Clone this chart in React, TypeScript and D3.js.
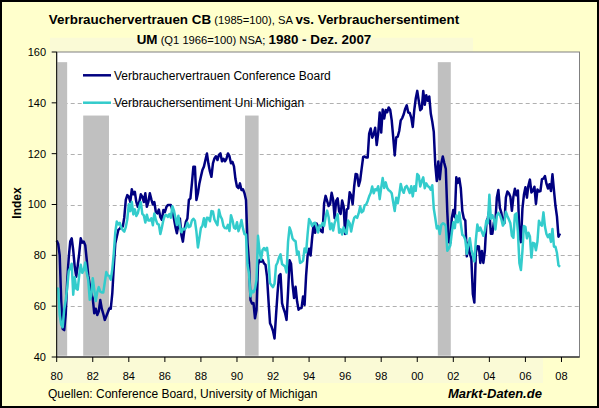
import React from 'react';
import * as d3 from 'd3';

// Monthly data, January 1980 – December 2007
const startYear = 1980;

const cbValues = [
  85.8, 84.5, 80, 62, 51, 50.6, 57, 70, 79, 85.4, 86.7, 82,
  75.5, 71.6, 76, 80.8, 86.7, 85, 85.4, 84, 78.2, 72, 68.3, 65,
  63.1, 57.2, 59, 56.5, 58, 62.4, 59, 57, 54.6, 56, 57.5, 59.1,
  59, 65, 75.5, 84.7, 87.3, 90, 90.5, 91.3, 91.3, 95, 101.8, 103.7,
  103.1, 101, 106, 104, 105, 101, 99.1, 101, 104, 103.1, 101, 104.4,
  99.1, 101, 104.4, 102, 100, 101, 97, 96.5, 98, 95, 94, 97.8,
  97, 99, 99.8, 99.8, 99.8, 97.8, 94.6, 91.3, 88.7, 92, 94.5, 88,
  85.4, 90, 93.2, 94.5, 101.8, 102.4, 108.3, 114.9, 114.9, 101.8, 104.4, 108.3,
  111, 113.6, 114.9, 117.5, 120.1, 116, 113, 110.9, 116.2, 118.1, 119, 117.5,
  119.5, 120.1, 117, 118, 117, 118, 120.1, 119, 116.2, 116.8, 115, 110,
  107, 106.4, 108.3, 105.7, 106, 104.4, 101.8, 85, 77, 62.4, 61, 61.2,
  55.2, 58.5, 76.2, 78.2, 77.5, 78.2, 76.8, 76.2, 71.6, 62, 53.3, 52,
  50.2, 47.3, 56.5, 65.1, 71.9, 72.6, 61.2, 59.0, 57.3, 54.6, 65.6, 78.1,
  76.7, 68.5, 63.2, 67.6, 61.9, 58.6, 59.2, 59.3, 63.8, 60.5, 71.9, 79.8,
  82.6, 79.9, 86.7, 92.1, 88.9, 92.5, 91.3, 90.4, 89.5, 89.1, 100.4, 103.4,
  101.4, 99.4, 100.2, 104.6, 102.0, 94.6, 101.4, 102.4, 97.3, 96.3, 101.6, 99.2,
  88.4, 98.0, 98.4, 104.8, 103.5, 100.1, 107.0, 112.0, 111.8, 107.3, 109.5, 114.2,
  118.7, 118.9, 118.5, 118.5, 127.9, 129.9, 126.3, 127.6, 130.2, 123.4, 128.1, 136.2,
  128.3, 137.4, 133.8, 137.2, 136.3, 138.2, 137.2, 133.1, 126.4, 119.3, 126.4, 126.7,
  128.9, 133.1, 134.0, 135.5, 137.7, 139.0, 136.2, 136.0, 134.2, 130.5, 137.0, 141.7,
  144.7, 140.8, 137.1, 137.7, 144.7, 139.2, 143.0, 140.8, 142.5, 135.8, 132.6, 128.6,
  115.7, 109.2, 116.9, 109.9, 116.1, 118.9, 116.3, 114.0, 97.0, 85.3, 84.9, 94.6,
  97.8, 95.0, 110.7, 108.5, 110.3, 106.3, 97.4, 94.5, 93.7, 79.6, 84.9, 80.7,
  78.8, 64.8, 61.4, 81.0, 83.6, 83.5, 77.0, 81.7, 77.0, 81.7, 92.5, 94.8,
  97.7, 88.5, 88.5, 93.0, 93.1, 102.8, 105.7, 98.7, 96.7, 92.9, 92.6, 102.7,
  105.1, 104.4, 103.0, 97.5, 103.1, 106.2, 103.6, 105.5, 87.5, 85.2, 98.3, 103.8,
  106.8, 102.7, 107.5, 109.8, 104.7, 105.4, 107.0, 100.2, 105.9, 105.1, 105.3, 110.0,
  110.2, 111.2, 108.2, 106.3, 108.0, 105.3, 111.9, 105.6, 99.5, 95.2, 87.3, 88.6,
];

const umValues = [
  67.0, 66.9, 56.5, 52.7, 51.7, 58.7, 62.3, 67.3, 73.7, 75.0, 76.7, 64.5,
  71.4, 66.9, 66.5, 72.4, 76.3, 73.1, 74.1, 77.2, 73.1, 70.3, 62.5, 64.3,
  71.0, 66.5, 62.0, 65.5, 67.5, 65.7, 65.4, 65.4, 69.3, 73.4, 72.1, 71.9,
  70.4, 74.6, 80.8, 89.1, 93.3, 92.2, 92.8, 90.9, 89.9, 89.3, 91.1, 94.2,
  100.1, 97.4, 101.0, 96.1, 98.1, 95.5, 96.6, 99.1, 100.9, 96.3, 95.7, 92.9,
  96.0, 93.7, 93.7, 94.6, 91.8, 96.5, 94.0, 92.4, 92.1, 88.4, 90.9, 93.9,
  95.6, 95.9, 95.1, 96.2, 94.8, 99.3, 97.7, 94.9, 91.9, 95.6, 91.4, 89.1,
  90.4, 90.2, 90.8, 92.8, 91.1, 91.5, 93.7, 94.4, 93.6, 89.3, 83.1, 86.8,
  90.8, 91.6, 94.6, 91.2, 94.8, 94.7, 93.4, 97.4, 97.3, 94.1, 93.0, 91.9,
  97.9, 95.4, 94.3, 91.5, 90.7, 90.6, 92.0, 89.6, 95.8, 93.9, 90.9, 90.5,
  93.0, 89.5, 91.3, 93.9, 90.6, 88.3, 88.2, 76.4, 72.8, 63.9, 66.0, 65.5,
  66.8, 70.4, 87.7, 81.8, 78.3, 82.1, 82.9, 82.0, 83.0, 78.3, 69.1, 68.2,
  67.5, 68.8, 76.0, 77.2, 79.2, 80.4, 76.6, 76.1, 75.6, 73.3, 85.3, 91.0,
  89.3, 86.6, 85.9, 85.6, 80.3, 81.5, 77.0, 77.3, 77.9, 82.7, 81.2, 88.2,
  94.3, 93.2, 91.5, 92.6, 92.8, 91.2, 89.0, 91.7, 91.5, 92.7, 91.6, 95.1,
  97.6, 95.1, 90.3, 92.5, 89.8, 92.7, 94.4, 96.2, 88.9, 90.2, 88.2, 91.0,
  89.3, 88.5, 93.7, 92.7, 89.4, 92.4, 94.7, 95.3, 94.7, 96.5, 99.2, 96.9,
  97.4, 99.7, 100.0, 101.4, 103.2, 104.5, 107.1, 104.4, 106.0, 105.6, 107.2, 102.1,
  106.6, 110.4, 106.5, 108.7, 106.5, 105.6, 105.2, 104.4, 100.9, 97.4, 102.7, 100.5,
  103.9, 108.1, 105.7, 104.6, 106.8, 107.3, 106.0, 104.5, 107.2, 103.2, 107.2, 105.4,
  112.0, 111.3, 107.1, 109.2, 110.7, 106.4, 108.3, 107.3, 106.8, 105.8, 107.6, 98.4,
  94.7, 90.6, 91.5, 88.4, 92.0, 92.6, 92.4, 91.5, 81.8, 82.7, 83.9, 88.8,
  93.0, 90.7, 95.7, 93.0, 96.9, 92.4, 88.1, 87.6, 86.1, 80.6, 84.2, 86.7,
  82.4, 79.9, 77.6, 86.0, 92.1, 89.7, 90.9, 89.3, 87.7, 89.6, 93.7, 92.6,
  103.8, 94.4, 95.8, 94.2, 90.2, 95.6, 96.7, 95.9, 94.2, 91.7, 92.8, 97.1,
  95.5, 94.1, 92.6, 87.7, 86.9, 96.0, 96.5, 89.1, 76.9, 74.2, 81.6, 91.5,
  91.2, 86.7, 88.9, 87.4, 79.1, 84.9, 84.7, 82.0, 85.4, 93.6, 92.1, 91.7,
  96.9, 91.3, 88.4, 87.1, 88.3, 85.3, 90.4, 83.4, 83.4, 80.9, 76.1, 75.5,
];

const yTicks = [40, 60, 80, 100, 120, 140, 160];
const gridValues = [60, 80, 100, 120, 140];
const xTickYears = [1980, 1982, 1984, 1986, 1988, 1990, 1992, 1994, 1996, 1998, 2000, 2002, 2004, 2006, 2008];
const xTickLabels = ['80', '82', '84', '86', '88', '90', '92', '94', '96', '98', '00', '02', '04', '06', '08'];

// Recessions (NBER), as year fractions
const recessionStarts = [1980.0, 1981.47, 1990.45, 2001.14];
const recessionEnds = [1980.58, 1982.9, 1991.2, 2001.86];
const recessionTops = [156, 135, 135, 156];

const seriesNames = ['Verbrauchervertrauen Conference Board', 'Verbrauchersentiment Uni Michigan'];
const seriesColors = ['#000080', '#33CCCC'];

const FONT = 'Arial, "Liberation Sans", Helvetica, sans-serif';

export default function App() {
  const W = 599;
  const H = 408;
  const x = d3.scaleLinear().domain([1980, 2009]).range([56.7, 579.5]);
  const y = d3.scaleLinear().domain([40, 160]).range([357, 52]);

  const toPts = (vals: number[]) => vals.map((v, i) => ({ t: startYear + i / 12, v }));
  const line = d3
    .line<{ t: number; v: number }>()
    .x((d) => x(d.t))
    .y((d) => y(d.v));

  const series = [cbValues, umValues];

  return (
    <svg
      width={W}
      height={H}
      style={{ position: 'absolute', left: 0, top: 0, fontFamily: FONT }}
    >
      <rect x={0} y={0} width={W} height={H} fill="#FFFFCC" />
      {/* faint lighter band behind plot and axis labels */}
      <rect x={50} y={37.7} width={423} height={15} fill="#FAFAD6" />
      <rect x={50} y={52} width={493} height={331} fill="#FAFAD6" />
      <rect x={1} y={1} width={W - 2} height={H - 2} fill="none" stroke="#000" strokeWidth={2} />

      {/* title */}
      <text x={254} y={23.5} textAnchor="middle" fill="#000">
        <tspan fontWeight="bold" fontSize={13.4}>Verbrauchervertrauen CB</tspan>
        <tspan fontSize={11.2}> (1985=100), SA </tspan>
        <tspan fontWeight="bold" fontSize={13.4}>vs. Verbrauchersentiment</tspan>
      </text>
      <text x={254} y={43.5} textAnchor="middle" fill="#000">
        <tspan fontWeight="bold" fontSize={13.4}>UM</tspan>
        <tspan fontSize={11.2}> (Q1 1966=100) NSA; </tspan>
        <tspan fontWeight="bold" fontSize={13.4}>1980 - Dez. 2007</tspan>
      </text>

      {/* plot area */}
      <rect
        x={x(1980)}
        y={y(160)}
        width={x(2009) - x(1980)}
        height={y(40) - y(160)}
        fill="#FFFFFF"
        stroke="#808080"
        strokeWidth={1}
      />

      {gridValues.map((g) => (
        <line
          key={'g' + g}
          x1={x(1980)}
          x2={x(2009)}
          y1={Math.round(y(g)) + 0.5}
          y2={Math.round(y(g)) + 0.5}
          stroke="#B0B0B0"
          strokeWidth={1}
          strokeDasharray="4,3"
        />
      ))}

      {recessionStarts.map((s, i) => (
        <rect
          key={'r' + i}
          x={x(s)}
          y={y(recessionTops[i])}
          width={x(recessionEnds[i]) - x(s)}
          height={y(40.5) - y(recessionTops[i])}
          fill="#C0C0C0"
        />
      ))}

      {series.map((vals, i) => (
        <path
          key={'s' + i}
          d={line(toPts(vals)) || ''}
          fill="none"
          stroke={seriesColors[i]}
          strokeWidth={2.5}
          strokeLinejoin="round"
        />
      ))}

      {/* legend */}
      {seriesNames.map((n, i) => (
        <g key={'l' + i}>
          <line
            x1={83}
            x2={111}
            y1={75.3 + i * 27.4}
            y2={75.3 + i * 27.4}
            stroke={seriesColors[i]}
            strokeWidth={2.5}
          />
          <text x={114} y={80 + i * 27.4} fontSize={12} fill="#000">
            {n}
          </text>
        </g>
      ))}

      {/* axes */}
      <line x1={x(1980)} x2={x(1980)} y1={y(160)} y2={y(40)} stroke="#000" strokeWidth={1} />
      <line x1={x(1980)} x2={x(2009)} y1={y(40)} y2={y(40)} stroke="#000" strokeWidth={1} />
      {yTicks.map((t) => (
        <g key={'yt' + t}>
          <line x1={x(1980) - 5} x2={x(1980)} y1={y(t)} y2={y(t)} stroke="#000" />
          <text x={46} y={y(t)} dy="0.35em" textAnchor="end" fontSize={11} fill="#000">
            {t}
          </text>
        </g>
      ))}
      {xTickYears.map((t, i) => (
        <g key={'xt' + t}>
          <line x1={x(t)} x2={x(t)} y1={y(40)} y2={y(40) + 5} stroke="#000" />
          <text x={x(t)} y={376} dy="0.35em" textAnchor="middle" fontSize={11} fill="#000">
            {xTickLabels[i]}
          </text>
        </g>
      ))}

      <text
        transform={`translate(17,203) rotate(-90)`}
        textAnchor="middle"
        dy="0.35em"
        fontSize={12}
        fontWeight="bold"
        fill="#000"
      >
        Index
      </text>

      <text x={48} y={397.5} fontSize={12} fill="#000">
        Quellen: Conference Board, University of Michigan
      </text>
      <text x={448} y={397.5} fontSize={13} fontWeight="bold" fontStyle="italic" fill="#000">
        Markt-Daten.de
      </text>
    </svg>
  );
}
